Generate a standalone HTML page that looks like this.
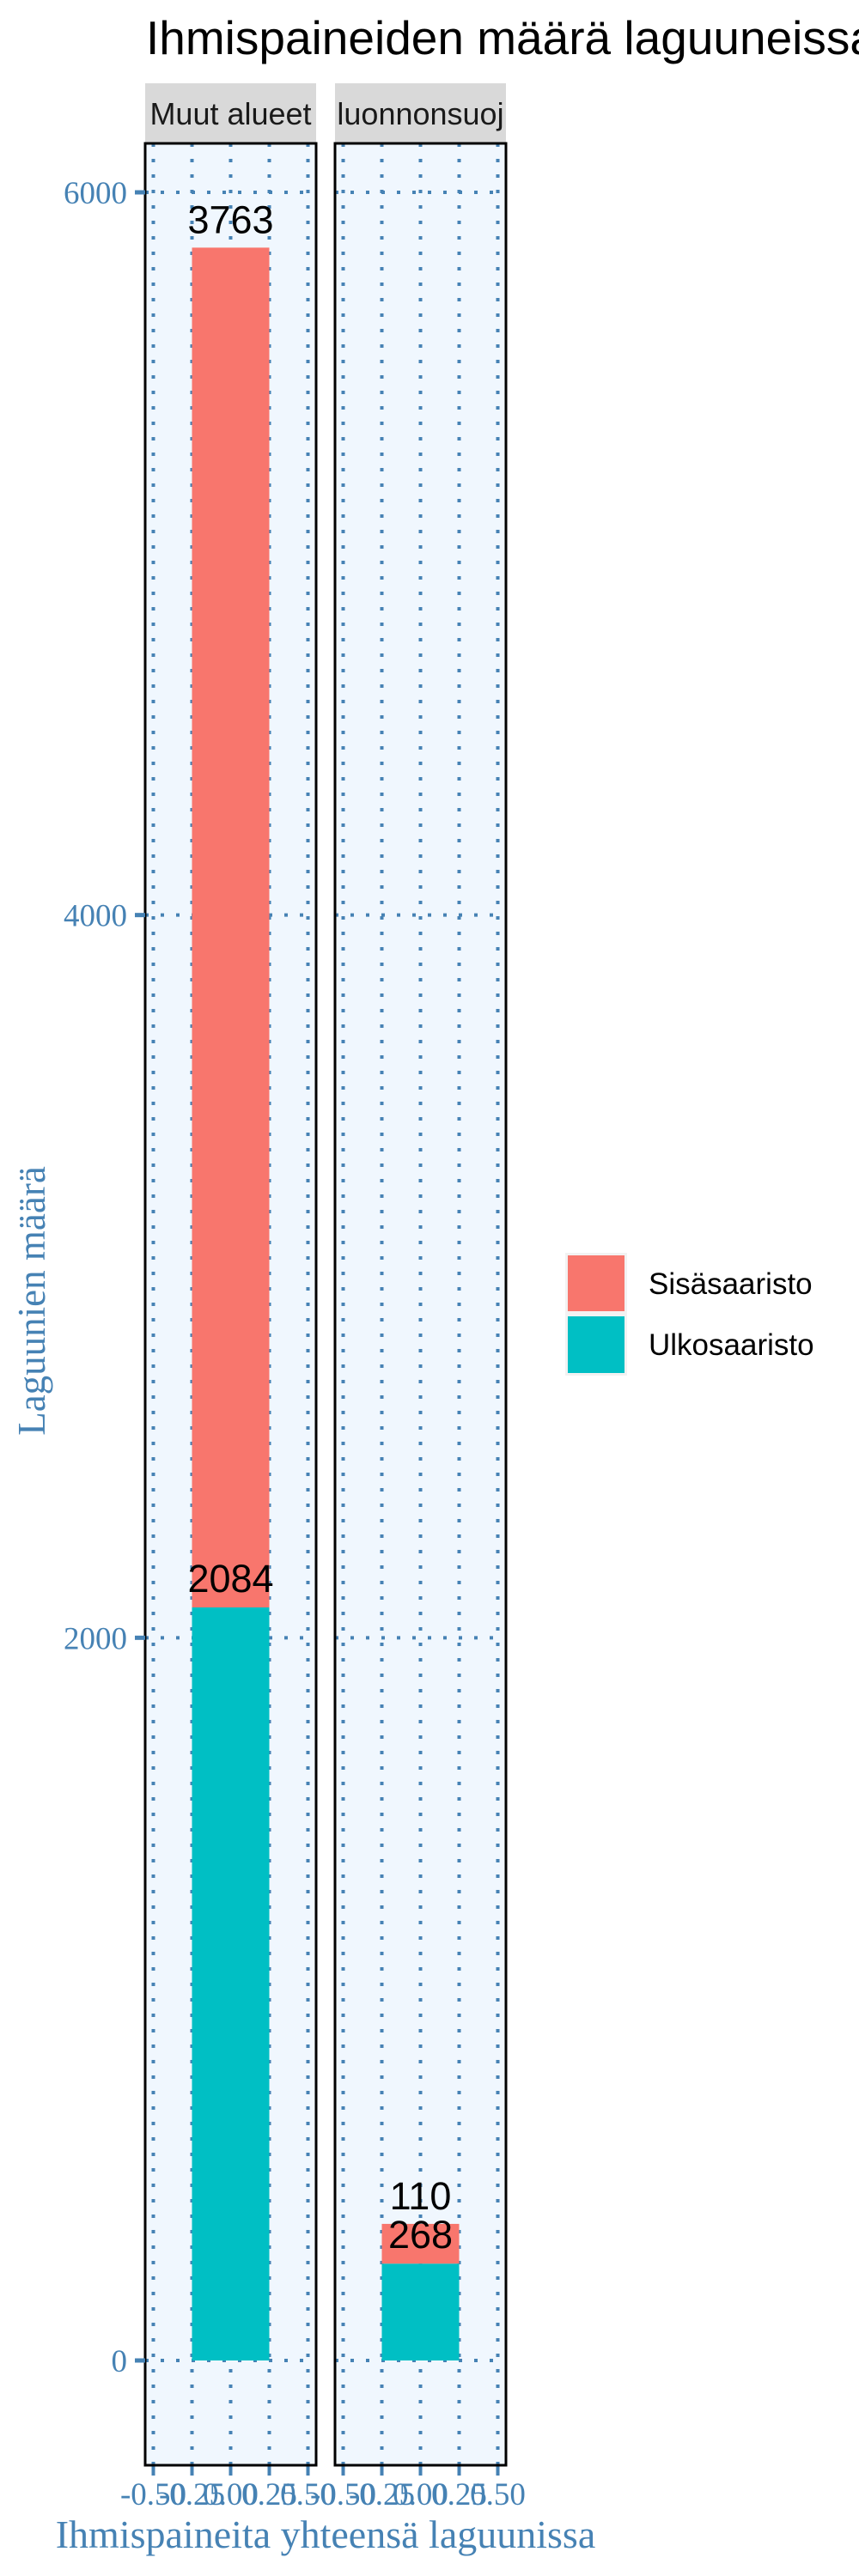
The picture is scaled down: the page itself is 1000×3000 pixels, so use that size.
<!DOCTYPE html>
<html><head><meta charset="utf-8"><style>
html,body{margin:0;padding:0;background:#fff;}
svg{display:block;}
</style></head><body>
<svg id="chart" width="1000" height="3000" viewBox="0 0 1000 3000" xmlns="http://www.w3.org/2000/svg">
<text x="170" y="63" font-family="Liberation Sans, sans-serif" font-size="55" fill="#000">Ihmispaineiden määrä laguuneissa</text>
<g id="panels"></g>
<text x="379" y="2967" text-anchor="middle" font-family="Liberation Serif, serif" font-size="46" fill="#4682B4">Ihmispaineita yhteensä laguunissa</text>
<text transform="translate(52,1515) rotate(-90)" text-anchor="middle" font-family="Liberation Serif, serif" font-size="45" fill="#4682B4">Laguunien määrä</text>
<g>
<rect x="658" y="1459" width="72" height="143" fill="#F2F2F2"/>
<rect x="661" y="1462" width="66" height="65" fill="#F8766D"/>
<rect x="661" y="1533" width="66" height="66" fill="#00BFC4"/>
<text x="755" y="1507" font-family="Liberation Sans, sans-serif" font-size="35" fill="#000">Sisäsaaristo</text>
<text x="755" y="1578" font-family="Liberation Sans, sans-serif" font-size="35" fill="#000">Ulkosaaristo</text>
</g>
</svg>
<script>
const facets = ["Muut alueet", "luonnonsuoj"];
const ulkoValues = [2084, 268];
const sisaValues = [3763, 110];
const yTicks = [0, 2000, 4000, 6000];
const xTicks = ["-0.50", "-0.25", "0.00", "0.25", "0.50"];

const NS = "http://www.w3.org/2000/svg";
const g = document.getElementById("panels");
const panelX = [169, 390], panelW = 199, panelTop = 167, panelBottom = 2871;
function y(v){ return 2749 - v * (2525/6000); }
function xs(i, v){ return panelX[i] + panelW/2 + v * 180; }
function mk(tag, attrs, parent){ const e=document.createElementNS(NS,tag); for(const k in attrs) e.setAttribute(k, attrs[k]); (parent||g).appendChild(e); return e; }
const blue = "#4682B4";

facets.forEach((f, i) => {
  const px = panelX[i];
  const strip = mk("rect", {x:px, y:97, width:panelW, height:70, fill:"#D9D9D9"});
  
  
  const st = mk("text", {x:px+panelW/2, y:145, "text-anchor":"middle", "font-family":"Liberation Sans, sans-serif", "font-size":"36", fill:"#1a1a1a"});
  st.textContent = f;
  
  
  const bg = mk("rect", {x:px, y:panelTop, width:panelW, height:panelBottom-panelTop, fill:"#F0F7FE"});
  
  
  xTicks.forEach((t) => {
    const xx = xs(i, parseFloat(t));
    const l = mk("line", {x1:xx, x2:xx, y1:panelTop, y2:panelBottom, stroke:blue, "stroke-width":4, "stroke-dasharray":"4 14"});
    
    
    const tk = mk("line", {x1:xx, x2:xx, y1:panelBottom, y2:panelBottom+12, stroke:blue, "stroke-width":4});
    
    
  });
  yTicks.forEach((t) => {
    const l = mk("line", {x1:px, x2:px+panelW, y1:y(t), y2:y(t), stroke:blue, "stroke-width":4, "stroke-dasharray":"4 14"});
    
    
  });
  const bx0 = xs(i, -0.25), bx1 = xs(i, 0.25);
  const u = mk("rect", {x:bx0, y:y(ulkoValues[i]), width:bx1-bx0, height:y(0)-y(ulkoValues[i]), fill:"#00BFC4"});
  
  
  const tot = ulkoValues[i] + sisaValues[i];
  const s = mk("rect", {x:bx0, y:y(tot), width:bx1-bx0, height:y(ulkoValues[i])-y(tot), fill:"#F8766D"});
  
  
  const lu = mk("text", {x:(bx0+bx1)/2, y:y(ulkoValues[i])-18, "text-anchor":"middle", "font-family":"Liberation Sans, sans-serif", "font-size":"45", fill:"#000"});
  lu.textContent = ulkoValues[i];
  
  
  const ls = mk("text", {x:(bx0+bx1)/2, y:y(tot)-17, "text-anchor":"middle", "font-family":"Liberation Sans, sans-serif", "font-size":"45", fill:"#000"});
  ls.textContent = sisaValues[i];
  
  
  const border = mk("rect", {x:px, y:panelTop, width:panelW, height:panelBottom-panelTop, fill:"none", stroke:"#000", "stroke-width":3});
  
  
  xTicks.forEach((t) => {
    const tl = mk("text", {x:xs(i, parseFloat(t)), y:2917, "text-anchor":"middle", "font-family":"Liberation Serif, serif", "font-size":"37", fill:blue});
    tl.textContent = t;
    
    
  });
});
yTicks.forEach((t) => {
  const tk = mk("line", {x1:157, x2:169, y1:y(t), y2:y(t), stroke:blue, "stroke-width":5});
  
  
  const tl = mk("text", {x:148, y:y(t)+13, "text-anchor":"end", "font-family":"Liberation Serif, serif", "font-size":"37", fill:blue});
  tl.textContent = t;
  
  
});
</script>
</body></html>
